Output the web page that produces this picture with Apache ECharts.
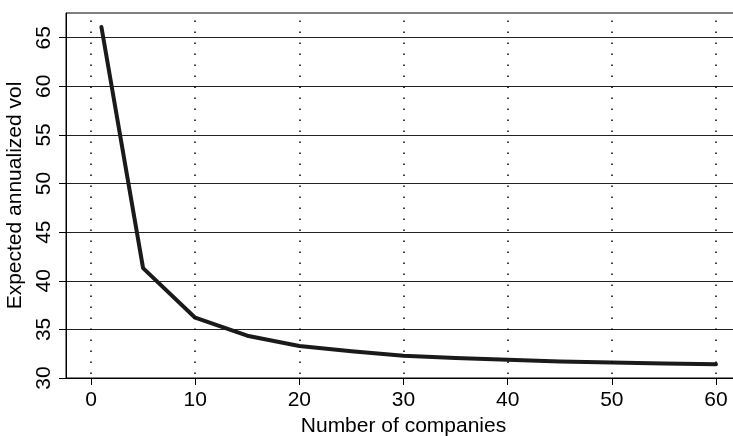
<!DOCTYPE html>
<html>
<head>
<meta charset="utf-8">
<script src="https://cdn.jsdelivr.net/npm/echarts@6/dist/echarts.min.js"></script>
<style>
  html, body { margin: 0; padding: 0; background: #ffffff; }
  #chart { width: 733px; height: 436px; }
</style>
</head>
<body>
<div id="chart"></div>
<script>
// Portfolio size vs. expected annualized volatility
const companies = [1, 5, 10, 15, 20, 25, 30, 35, 40, 45, 50, 55, 60];
const annualVol = [66.1, 41.3, 36.2, 34.35, 33.3, 32.75, 32.3, 32.05, 31.88, 31.7, 31.6, 31.5, 31.42];
const xTicks = [0, 10, 20, 30, 40, 50, 60];
const yTicks = [30, 35, 40, 45, 50, 55, 60, 65];

const FONT = "'Liberation Sans', Arial, Helvetica, sans-serif";

const chart = echarts.init(document.getElementById('chart'), null, { renderer: 'canvas' });

chart.setOption({
  animation: false,
  backgroundColor: '#ffffff',
  grid: {
    left: 66, top: 13, width: 675, height: 365,
    show: true, borderColor: '#000000', borderWidth: 1,
    containLabel: false,
    outerBoundsMode: 'none'
  },
  xAxis: {
    type: 'value',
    min: -2.4, max: 62.4,
    name: 'Number of companies',
    nameLocation: 'middle',
    nameGap: 38,
    nameTextStyle: { fontFamily: FONT, fontSize: 21, color: '#000' },
    axisLine: { show: true, onZero: false, lineStyle: { color: '#000', width: 1 } },
    axisTick: { show: true, length: 7, lineStyle: { color: '#000' }, customValues: xTicks },
    axisLabel: { fontFamily: FONT, fontSize: 21, color: '#000', margin: 12, customValues: xTicks },
    splitLine: { show: false }
  },
  yAxis: {
    type: 'value',
    min: 30, max: 67.54, interval: 5,
    name: 'Expected annualized vol',
    nameLocation: 'middle',
    nameGap: 32,
    nameRotate: 90,
    nameTextStyle: { fontFamily: FONT, fontSize: 21, color: '#000' },
    axisLine: { show: true, onZero: false, lineStyle: { color: '#000', width: 1 } },
    axisTick: { show: true, length: 7, lineStyle: { color: '#000' }, customValues: yTicks },
    axisLabel: { fontFamily: FONT, fontSize: 21, color: '#000', margin: 11, rotate: 90, customValues: yTicks },
    splitLine: { show: true, lineStyle: { color: '#222', width: 1 } }
  },
  series: [
    {
      // dotted vertical guides at each x tick
      type: 'line',
      data: [],
      z: 1,
      silent: true,
      markLine: {
        silent: true,
        symbol: 'none',
        label: { show: false },
        animation: false,
        lineStyle: { color: '#000', width: 1.5, type: [1.5, 9.5], dashOffset: 7 },
        data: xTicks.map(v => ({ xAxis: v }))
      }
    },
    {
      type: 'line',
      z: 3,
      data: companies.map((c, i) => [c, annualVol[i]]),
      showSymbol: false,
      symbol: 'none',
      lineStyle: { color: '#1a1a1a', width: 4, cap: 'round', join: 'round' }
    }
  ]
});
</script>
</body>
</html>
